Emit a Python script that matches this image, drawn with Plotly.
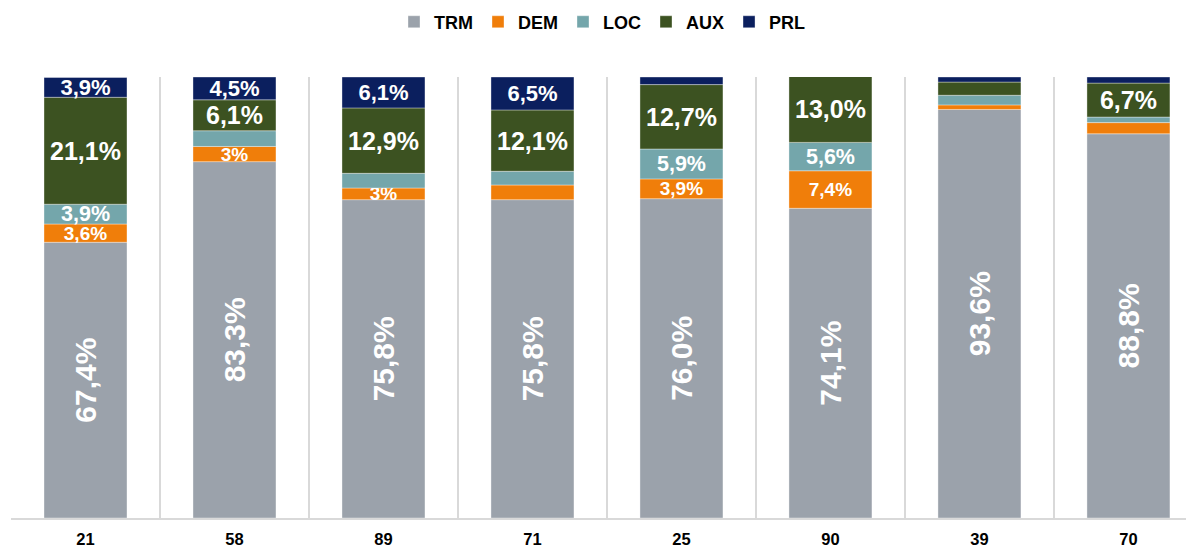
import numpy as np
import plotly.graph_objects as go

# ---- data ----
categories = ["21", "58", "89", "71", "25", "90", "39", "70"]
TRM = [67.4, 83.3, 75.8, 75.8, 76.0, 74.1, 93.6, 88.8]
DEM = [3.6, 3.0, 2.3, 2.9, 3.9, 7.4, 0.9, 2.2]
LOC = [3.9, 3.1, 2.9, 2.7, 5.9, 5.6, 1.9, 1.1]
AUX = [21.1, 6.1, 12.9, 12.1, 12.7, 13.0, 2.6, 6.7]
PRL = [3.9, 4.5, 6.1, 6.5, 1.5, 0.0, 1.0, 1.2]

TRM_LBL = ["67,4%", "83,3%", "75,8%", "75,8%", "76,0%", "74,1%", "93,6%", "88,8%"]
DEM_LBL = ["3,6%", "3%", "3%", "", "3,9%", "7,4%", "", ""]
LOC_LBL = ["3,9%", "", "", "", "5,9%", "5,6%", "", ""]
AUX_LBL = ["21,1%", "6,1%", "12,9%", "12,1%", "12,7%", "13,0%", "", "6,7%"]
PRL_LBL = ["3,9%", "4,5%", "6,1%", "6,5%", "", "", "", ""]

Y_MIN = 13.0
Y_MAX = 100.0

FONT = "Liberation Sans, Arial, sans-serif"
series = [
    ("TRM", TRM, TRM_LBL, "#9BA2AB", 30, -90),
    ("DEM", DEM, DEM_LBL, "#F07E0A", 19, 0),
    ("LOC", LOC, LOC_LBL, "#74A6AB", 21.5, 0),
    ("AUX", AUX, AUX_LBL, "#3C5221", 25, 0),
    ("PRL", PRL, PRL_LBL, "#0B1F5E", 22, 0),
]

fig = go.Figure()
cum = np.zeros(len(categories))
for name, vals, lbl, color, fsize, angle in series:
    v = np.array(vals, dtype=float)
    base = cum.copy()
    top = cum + v
    # visible part of each segment (the value axis starts at Y_MIN)
    vis_base = np.maximum(base, Y_MIN)
    fig.add_trace(go.Bar(
        name=name,
        x=categories,
        y=top - vis_base,
        base=vis_base,
        marker=dict(color=color, line=dict(color="rgba(255,255,255,0.6)", width=0.6)),
        text=lbl,
        textposition="inside",
        insidetextanchor="middle",
        textangle=angle,
        constraintext="none",
        textfont=dict(family=FONT, size=fsize, color="white", weight="bold"),
        cliponaxis=True,
    ))
    cum = top

# the page body has an 8px margin: figure is sized to fit the window
fig.update_layout(
    width=1186,
    height=541,
    barmode="overlay",
    bargap=0.443,
    plot_bgcolor="white",
    paper_bgcolor="white",
    margin=dict(l=3, r=0, t=69, b=31, autoexpand=False),
    showlegend=True,
    legend=dict(
        orientation="h",
        x=0.5,
        xanchor="center",
        yref="container",
        y=0.974,
        yanchor="middle",
        font=dict(family=FONT, size=18, color="black", weight="bold"),
        traceorder="normal",
        itemclick=False,
    ),
    xaxis=dict(
        type="category",
        range=[-0.5, 7.44],
        tickson="boundaries",
        showgrid=True,
        gridcolor="#D9D9D9",
        gridwidth=2,
        showline=True,
        linecolor="#D9D9D9",
        linewidth=2,
        ticks="",
        ticklabelstandoff=5,
        tickfont=dict(family=FONT, size=16.5, color="black", weight="bold"),
        fixedrange=True,
    ),
    yaxis=dict(
        range=[Y_MIN, Y_MAX],
        showgrid=False,
        zeroline=False,
        showticklabels=False,
        showline=False,
        fixedrange=True,
    ),
)

fig.write_html("out.html")
